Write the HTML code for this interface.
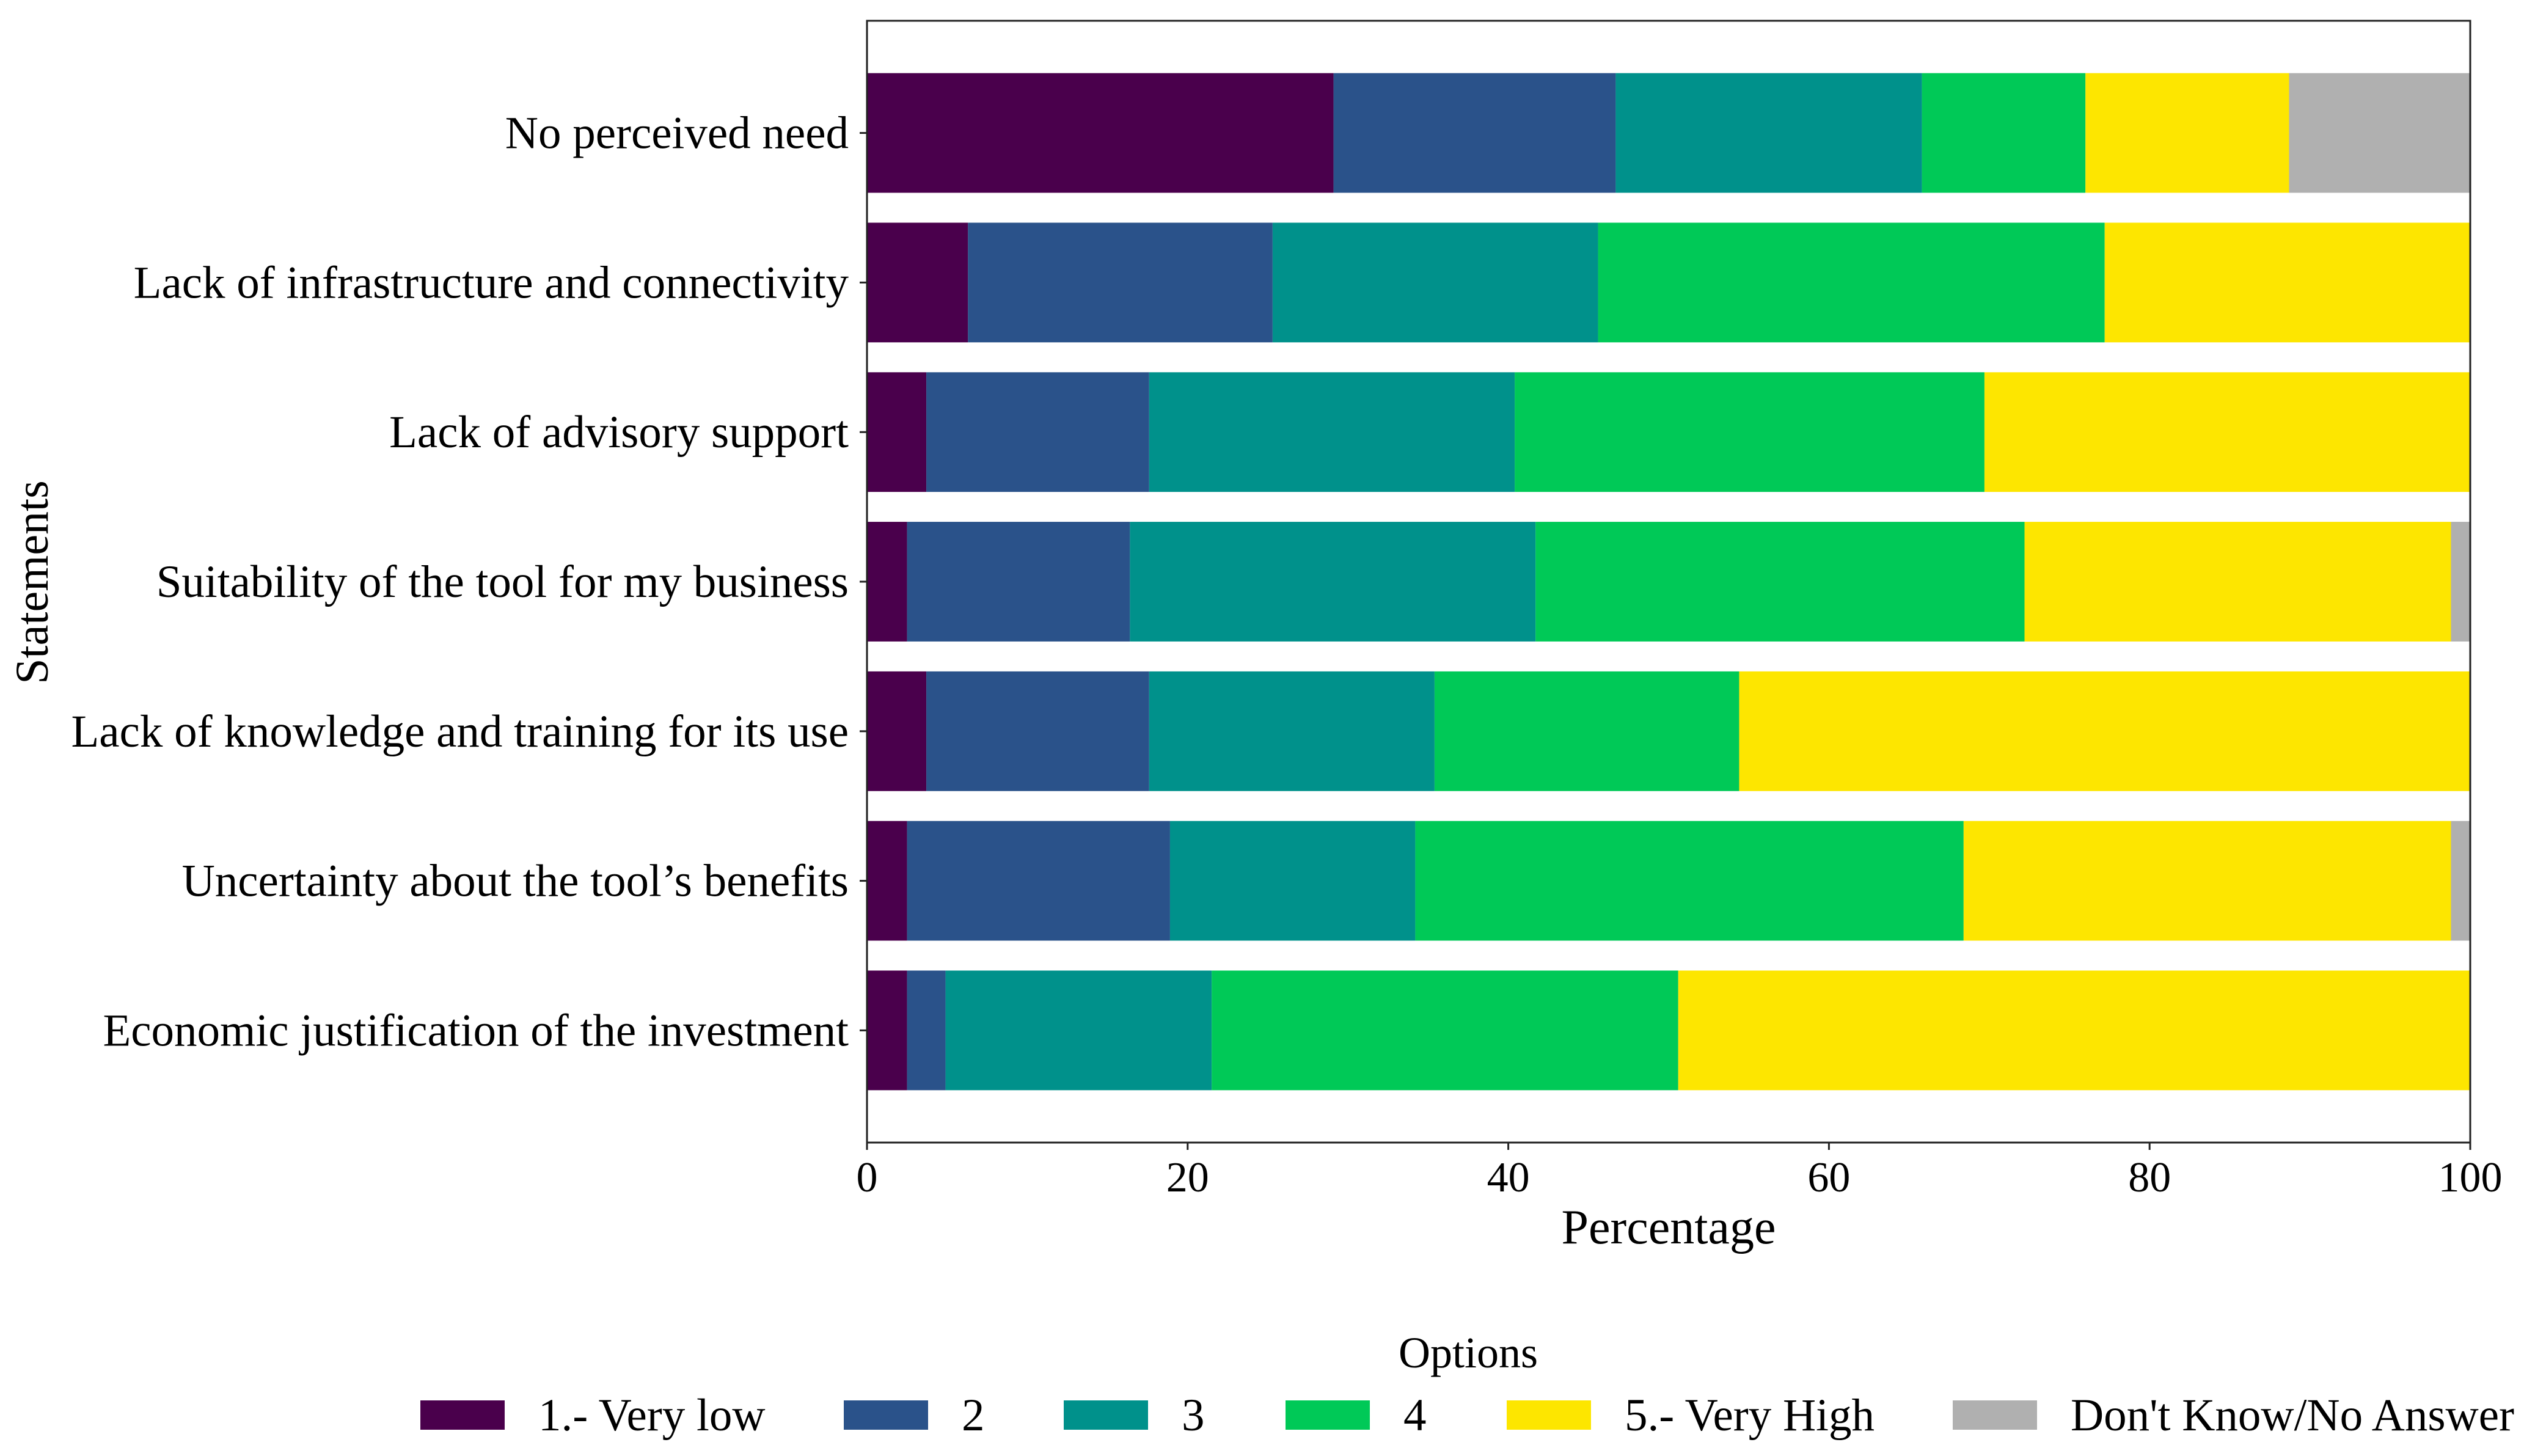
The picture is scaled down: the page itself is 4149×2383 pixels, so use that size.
<!DOCTYPE html>
<html><head><meta charset="utf-8"><style>
html,body{margin:0;padding:0;background:#fff;}
svg{display:block;font-family:"Liberation Serif",serif;}
</style></head><body>
<svg id="chart" width="4149" height="2383" viewBox="0 0 4149 2383" xmlns="http://www.w3.org/2000/svg">
<g id="bars"></g>
<rect x="1419" y="34" width="2624" height="1836" fill="none" stroke="#222" stroke-width="3"/>
<g id="yticks"></g>
<g id="xticks"></g>
<text x="2731" y="2035" font-size="80" text-anchor="middle">Percentage</text>
<text x="0" y="0" font-size="76" text-anchor="middle" transform="translate(78,953) rotate(-90)">Statements</text>
<text x="2403" y="2238" font-size="72" text-anchor="middle">Options</text>
<g id="legend"></g>
</svg>
<script>
const categories = ["No perceived need","Lack of infrastructure and connectivity","Lack of advisory support","Suitability of the tool for my business","Lack of knowledge and training for its use","Uncertainty about the tool\u2019s benefits","Economic justification of the investment"];
const seriesNames = ["1.- Very low","2","3","4","5.- Very High","Don't Know/No Answer"];
const s1 = [29.1, 6.3, 3.7, 2.5, 3.7, 2.5, 2.5];
const s2 = [17.6, 19.0, 13.9, 13.9, 13.9, 16.4, 2.4];
const s3 = [19.1, 20.3, 22.8, 25.3, 17.8, 15.3, 16.6];
const s4 = [10.2, 31.6, 29.3, 30.5, 19.0, 34.2, 29.1];
const s5 = [12.7, 22.8, 30.3, 26.6, 45.6, 30.4, 49.4];
const s6 = [11.3, 0, 0, 1.2, 0, 1.2, 0];
const xTicks = [0,20,40,60,80,100];
const colors = ["#4a004c","#2a528a","#00918b","#00c957","#fde600","#b0b0b0"];
const NS="http://www.w3.org/2000/svg";
const L=1419,R=4043,T=34,B=1870;
const x=v=>L+(R-L)*v/100;
const y=i=>T+(B-T)*(i+0.75)/7.5;
const bh=(B-T)/7.5*0.8;
function mk(t,a,p){const e=document.createElementNS(NS,t);for(const k in a)e.setAttribute(k,a[k]);p.appendChild(e);return e;}
const series=[s1,s2,s3,s4,s5,s6];
const gb=document.getElementById('bars');
categories.forEach((c,i)=>{let acc=0;series.forEach((s,j)=>{const v=s[i];if(v>0){const r=mk('rect',{x:x(acc),y:y(i)-bh/2,width:x(acc+v)-x(acc),height:bh,fill:colors[j]},gb);

}acc+=v;});});
const gy=document.getElementById('yticks');
categories.forEach((c,i)=>{mk('line',{x1:L-12,x2:L,y1:y(i),y2:y(i),stroke:'#222','stroke-width':3},gy);
const t=mk('text',{x:L-30,y:y(i)+25,'font-size':75,'text-anchor':'end'},gy);t.textContent=c;

});
const gx=document.getElementById('xticks');
xTicks.forEach(v=>{mk('line',{x1:x(v),x2:x(v),y1:B,y2:B+12,stroke:'#222','stroke-width':3},gx);
const t=mk('text',{x:x(v),y:B+80,'font-size':70,'text-anchor':'middle'},gx);t.textContent=v;

});
const gl=document.getElementById('legend');
const lx=[688,1381,1741,2104,2466,3196];
seriesNames.forEach((n,j)=>{const r=mk('rect',{x:lx[j],y:2292,width:138,height:48,fill:colors[j]},gl);


const t=mk('text',{x:lx[j]+193,y:2341,'font-size':75},gl);t.textContent=n;

});
</script>
</body></html>
